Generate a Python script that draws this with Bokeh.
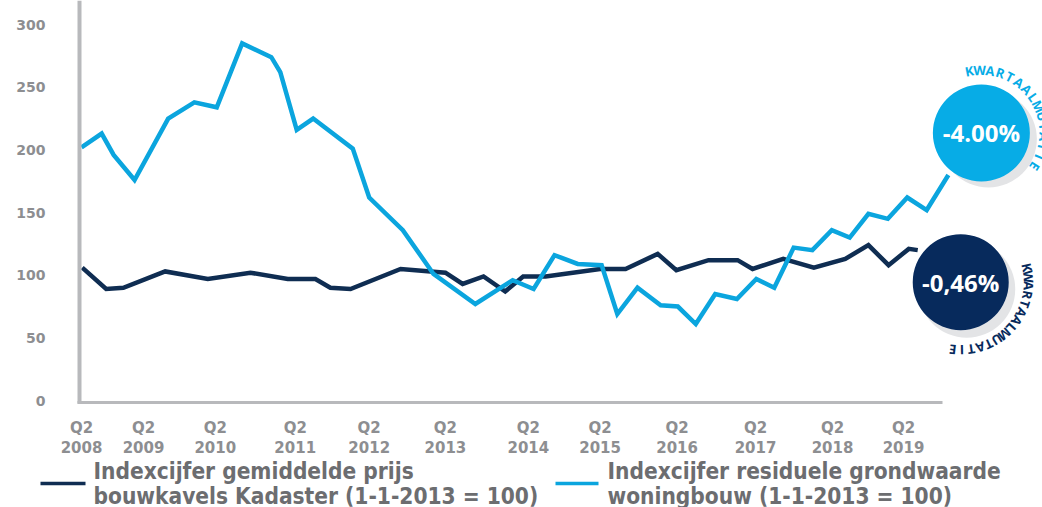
import math
from bokeh.plotting import figure
from bokeh.models import FixedTicker, Range1d
from bokeh.core.properties import value
from bokeh.embed import file_html
from bokeh.resources import INLINE

# ---------------- data ----------------
dark_t = [2008.26, 2008.58, 2008.81, 2009.37, 2009.94, 2010.51, 2011.01, 2011.38,
          2011.58, 2011.85, 2012.52, 2013.12, 2013.35, 2013.63, 2013.92, 2014.16,
          2014.46, 2015.19, 2015.53, 2015.96, 2016.21, 2016.64, 2017.03, 2017.23,
          2017.64, 2018.05, 2018.47, 2018.78, 2019.05, 2019.32, 2019.44]
dark_v = [106, 89, 90, 103, 97, 102, 97, 97, 90, 89,
          105, 102, 93, 99, 87, 99, 99, 105, 105, 117,
          104, 112, 112, 105, 113, 106, 113, 124, 108, 121, 120]

light_t = [2008.25, 2008.52, 2008.68, 2008.96, 2009.41, 2009.76, 2010.06, 2010.40,
           2010.79, 2010.91, 2011.13, 2011.35, 2011.88, 2012.10, 2012.55, 2012.96,
           2013.52, 2014.02, 2014.30, 2014.58, 2014.89, 2015.21, 2015.42, 2015.69,
           2016.00, 2016.23, 2016.47, 2016.73, 2017.02, 2017.28, 2017.52, 2017.78,
           2018.03, 2018.29, 2018.53, 2018.78, 2019.04, 2019.30, 2019.56, 2019.85]
light_v = [202, 213, 196, 176, 225, 238, 234, 285, 274, 262,
           216, 225, 201, 162, 136, 101, 77, 96, 89, 116,
           109, 108, 69, 90, 76, 75, 61, 85, 81, 97,
           90, 122, 120, 136, 130, 149, 145, 162, 152, 180]

tick_pos = [2008.25, 2009.08, 2010.04, 2011.11, 2012.10, 2013.12,
            2014.23, 2015.19, 2016.22, 2017.27, 2018.30, 2019.25]
tick_labels = ["Q2\n2008", "Q2\n2009", "Q2\n2010", "Q2\n2011", "Q2\n2012", "Q2\n2013",
               "Q2\n2014", "Q2\n2015", "Q2\n2016", "Q2\n2017", "Q2\n2018", "Q2\n2019"]
y_ticks = [0, 50, 100, 150, 200, 250, 300]

dark_change = "-0,46%"
light_change = "-4.00%"
mutatie_text = "KWARTAALMUTATIE"
legend_dark = ["Indexcijfer gemiddelde prijs", "bouwkavels Kadaster (1-1-2013 = 100)"]
legend_light = ["Indexcijfer residuele grondwaarde", "woningbouw (1-1-2013 = 100)"]

# ---------------- styling / geometry ----------------
DARK = "#0f2d52"
LIGHT = "#0ba5de"
BUB_DARK = "#072a5c"
BUB_LIGHT = "#07ace6"
SHADOW = "#e3e4e6"
AXIS_GREY = "#b8b9bc"
TICK_GREY = "#8d8e91"
LEG_GREY = "#6c6d70"
LEG_FONT = "Liberation Sans Narrow, DejaVu Sans Condensed, sans-serif"

W, H = 1042, 507
ORIGIN_X, ORIGIN_Y = 81, 400          # canvas pixel of (Q2 2008, 0)
PX_PER_YEAR = 74.73
PX_PER_UNIT = 1.253
X0 = 2008.25


def dxp(px):
    return px / PX_PER_YEAR


def dyp(px):
    return px / PX_PER_UNIT


def ix(px):
    return X0 + dxp(px - ORIGIN_X)


def iy(py):
    return dyp(ORIGIN_Y - py)


p = figure(width=W, height=H,
           x_range=Range1d(ix(0), ix(W)), y_range=Range1d(iy(H), iy(0)),
           output_backend="svg", toolbar_location=None, min_border=0,
           background_fill_color="white", border_fill_color="white",
           outline_line_color=None)
p.grid.visible = False

# axes drawn at fixed places inside the canvas
xa, ya = p.xaxis[0], p.yaxis[0]
xa.fixed_location = iy(401.5)
xa.bounds = (ix(77), ix(942))
xa.ticker = FixedTicker(ticks=tick_pos)
xa.major_label_overrides = {t: l for t, l in zip(tick_pos, tick_labels)}
xa.axis_line_color = AXIS_GREY
xa.axis_line_width = 3
xa.major_tick_line_color = None
xa.minor_tick_line_color = None
xa.major_label_standoff = 11
xa.major_label_text_font = "DejaVu Sans"
xa.major_label_text_font_style = "bold"
xa.major_label_text_font_size = "15px"
xa.major_label_text_color = TICK_GREY
xa.major_label_text_line_height = 1.1

ya.fixed_location = ix(79)
ya.bounds = (iy(403), iy(0))
ya.ticker = FixedTicker(ticks=y_ticks)
ya.axis_line_color = AXIS_GREY
ya.axis_line_width = 4
ya.major_tick_line_color = None
ya.minor_tick_line_color = None
ya.major_label_standoff = 28
ya.major_label_text_font = "DejaVu Sans"
ya.major_label_text_font_style = "bold"
ya.major_label_text_font_size = "14px"
ya.major_label_text_color = TICK_GREY

# lines
p.line(dark_t, dark_v, line_color=DARK, line_width=4.5, line_join="miter")
p.line(light_t, light_v, line_color=LIGHT, line_width=4.5, line_join="miter")

# bubbles
lcx, lcy = light_t[-1] + dxp(33), light_v[-1] + dyp(42)
dcx, dcy = dark_t[-1] + dxp(43), dark_v[-1] - dyp(32)
p.scatter([lcx + dxp(7)], [lcy - dyp(6)], size=97, fill_color=SHADOW, line_color=None)
p.scatter([dcx + dxp(6)], [dcy - dyp(7)], size=97, fill_color=SHADOW, line_color=None)
p.scatter([lcx], [lcy], size=97, fill_color=BUB_LIGHT, line_color=None)
p.scatter([dcx], [dcy], size=96, fill_color=BUB_DARK, line_color=None)
p.text([lcx], [lcy], text=[light_change], text_align="center", text_baseline="middle",
       text_color="white", text_font=value("Open Sans"), text_font_style="bold",
       text_font_size="24px")
p.text([dcx], [dcy], text=[dark_change], text_align="center", text_baseline="middle",
       text_color="white", text_font=value("Open Sans"), text_font_style="bold",
       text_font_size="24px")


def arc_text(cx, cy, radius, start_deg, step_deg, label, color):
    xs, ys, angs, chars = [], [], [], []
    for i, ch in enumerate(label):
        th = math.radians(start_deg - i * step_deg)
        xs.append(cx + dxp(radius * math.cos(th)))
        ys.append(cy + dyp(radius * math.sin(th)))
        angs.append(th - math.pi / 2)
        chars.append(ch)
    p.text(xs, ys, text=chars, angle=angs, text_align="center",
           text_baseline="middle", text_color=color, text_font=value("Open Sans"),
           text_font_style="bold", text_font_size="13px")


arc_text(lcx, lcy, 63, 101, 9.5, mutatie_text, BUB_LIGHT)
arc_text(dcx, dcy, 68, 12.5, 7.8, mutatie_text, BUB_DARK)

# ---------------- legend (below the axis) ----------------
for (sx0, sx1, tx, lines, col) in ((40, 85, 93, legend_dark, DARK),
                                   (555, 598, 607, legend_light, LIGHT)):
    p.line([ix(sx0), ix(sx1)], [iy(483), iy(483)], line_color=col, line_width=3.5)
    p.text([ix(tx), ix(tx)], [iy(470), iy(495)], text=lines, text_align="left",
           text_baseline="middle", text_color=LEG_GREY, text_font=value(LEG_FONT),
           text_font_style="bold", text_font_size="22.5px")

open("out.html", "w").write(file_html(p, INLINE))
